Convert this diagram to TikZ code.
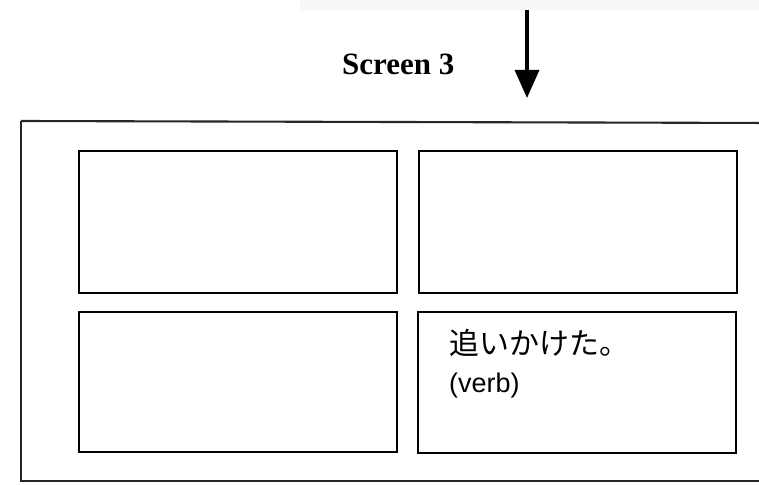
\documentclass[tikz,border=0pt]{standalone}
\usepackage{fontspec}
\setmainfont{Liberation Serif}
\newfontfamily\cjkfont{Noto Sans CJK JP}
\newfontfamily\armfont{Liberation Sans}
\usetikzlibrary{arrows.meta}
\definecolor{wmark}{RGB}{246,248,250}
\tikzset{
  panel/.style={draw=black, line width=2.5pt, minimum width=318pt, inner sep=0pt, anchor=center},
  frame/.style={draw=black!85, line width=2.1pt, inner sep=0pt},
  label/.style={inner sep=0pt, anchor=base west}
}
\begin{document}
\begin{tikzpicture}[x=1pt,y=-1pt]
\useasboundingbox (0,0) rectangle (759,484);
\clip (0,0) rectangle (759,484);
\fill[white] (0,0) rectangle (759,484);
\fill[wmark] (300,0) rectangle (759,10);
% outer frame
\draw[frame] (21,121) -- (775,123);
\draw[frame] (21,121) -- (21,481) -- (775,481);
% panels
\node[panel, minimum height=142pt] (tl) at (238,222) {};
\node[panel, minimum height=142pt] (tr) at (578,222) {};
\node[panel, minimum height=140pt] (bl) at (238,382) {};
\node[panel, minimum height=141pt] (br) at (577,382.5) {};
% title
\node[label, font=\bfseries\fontsize{31}{31}\selectfont] (title) at (342,75) {Screen 3};
% arrow
\coordinate (arrtop) at (527,10);
\coordinate (arrtip) at (527,98);
\draw[line width=3.2pt, -{Triangle[width=24pt,length=28pt]}] (arrtop) -- (arrtip);
% text in bottom-right panel
\node[label, font=\cjkfont\fontsize{30}{30}\selectfont] (jp) at (449,354) {追いかけた。};
\node[label, font=\armfont\fontsize{27}{27}\selectfont] (verb) at (449,392) {(verb)};
\end{tikzpicture}
\end{document}
